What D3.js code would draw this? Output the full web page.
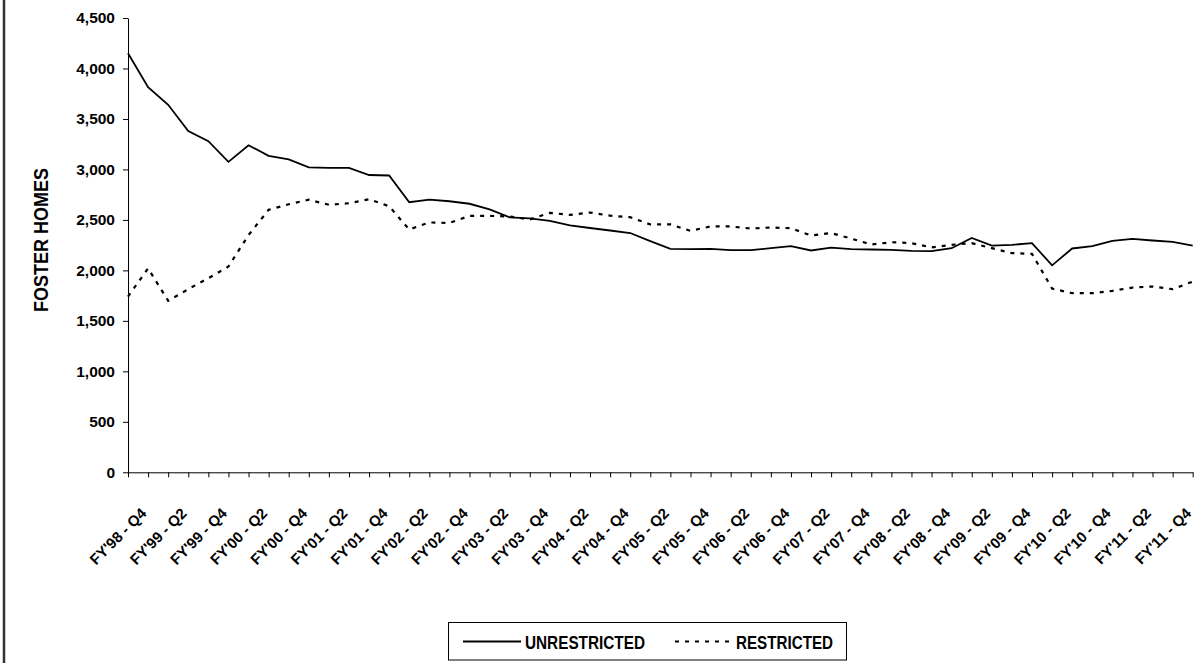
<!DOCTYPE html>
<html><head><meta charset="utf-8">
<script src="https://cdn.jsdelivr.net/npm/d3@7"></script>
<style>
body{margin:0;background:#fff}
text{font-family:"Liberation Sans",Arial,sans-serif;font-weight:bold;fill:#000}
</style>
</head><body><svg id="c" width="1203" height="663"></svg>
<script>
const quarters = [
 "FY'98 - Q4",
 "FY'99 - Q1","FY'99 - Q2","FY'99 - Q3","FY'99 - Q4",
 "FY'00 - Q1","FY'00 - Q2","FY'00 - Q3","FY'00 - Q4",
 "FY'01 - Q1","FY'01 - Q2","FY'01 - Q3","FY'01 - Q4",
 "FY'02 - Q1","FY'02 - Q2","FY'02 - Q3","FY'02 - Q4",
 "FY'03 - Q1","FY'03 - Q2","FY'03 - Q3","FY'03 - Q4",
 "FY'04 - Q1","FY'04 - Q2","FY'04 - Q3","FY'04 - Q4",
 "FY'05 - Q1","FY'05 - Q2","FY'05 - Q3","FY'05 - Q4",
 "FY'06 - Q1","FY'06 - Q2","FY'06 - Q3","FY'06 - Q4",
 "FY'07 - Q1","FY'07 - Q2","FY'07 - Q3","FY'07 - Q4",
 "FY'08 - Q1","FY'08 - Q2","FY'08 - Q3","FY'08 - Q4",
 "FY'09 - Q1","FY'09 - Q2","FY'09 - Q3","FY'09 - Q4",
 "FY'10 - Q1","FY'10 - Q2","FY'10 - Q3","FY'10 - Q4",
 "FY'11 - Q1","FY'11 - Q2","FY'11 - Q3","FY'11 - Q4",
 "FY'12 - Q1"
];
const unrestricted = [
 4150,
 3815,3640,3380,3280,
 3075,3240,3135,3100,
 3020,3015,3015,2945,
 2940,2675,2700,2685,
 2660,2605,2525,2515,
 2490,2445,2420,2395,
 2370,2290,2213,2210,
 2213,2200,2200,2220,
 2240,2197,2225,2210,
 2207,2203,2193,2190,
 2220,2322,2246,2253,
 2270,2050,2217,2240,
 2293,2312,2296,2283,
 2246
];
const restricted = [
 1740,
 2020,1698,1814,1923,
 2038,2350,2600,2655,
 2700,2650,2665,2705,
 2635,2405,2475,2470,
 2540,2540,2534,2505,
 2570,2550,2573,2542,
 2527,2455,2455,2392,
 2435,2435,2415,2425,
 2418,2345,2370,2315,
 2256,2279,2270,2227,
 2253,2270,2220,2171,
 2164,1820,1774,1774,
 1797,1830,1840,1814,
 1889
];
const yTicks = [0,500,1000,1500,2000,2500,3000,3500,4000,4500];
const seriesNames = ["UNRESTRICTED","RESTRICTED"];
const yTitle = "FOSTER HOMES";

const svg = d3.select("#c");

// left frame line
svg.append("line").attr("x1",4).attr("x2",4).attr("y1",0).attr("y2",663)
  .attr("stroke","#333").attr("stroke-width",2.5);

const x = d3.scalePoint().domain(quarters).range([128, 1192.7]);
const y = d3.scaleLinear().domain([0,4500]).range([472.3, 18]);

// y axis
const gy = svg.append("g").attr("transform","translate(128,0)")
  .call(d3.axisLeft(y).tickValues(yTicks).tickSize(5).tickSizeOuter(0).tickPadding(8).tickFormat(d3.format(",")));
gy.selectAll("text").style("font-size","15.5px");
gy.selectAll("line,path").attr("stroke","#000");

// x axis
const gx = svg.append("g").attr("transform","translate(0,472.3)")
  .call(d3.axisBottom(x).tickSize(5).tickSizeOuter(0).tickFormat((d,i)=> i%2===0 ? d : ""));
gx.selectAll("line,path").attr("stroke","#000");
gx.selectAll("text")
  .style("font-size","15px")
  .attr("text-anchor","end")
  .attr("x",0).attr("y",0).attr("dy",0)
  .attr("transform","translate(19,42) rotate(-45)");

// y title
svg.append("text")
  .attr("transform","translate(47.5,240) rotate(-90)")
  .attr("text-anchor","middle")
  .attr("textLength",144).attr("lengthAdjust","spacingAndGlyphs")
  .style("font-size","20px")
  .text(yTitle);

// lines
const line = d3.line().x((d,i)=>x(quarters[i])).y(d=>y(d));
svg.append("path").datum(unrestricted).attr("d",line)
  .attr("fill","none").attr("stroke","#000").attr("stroke-width",1.8);
svg.append("path").datum(restricted).attr("d",line)
  .attr("fill","none").attr("stroke","#000").attr("stroke-width",2.2)
  .attr("stroke-dasharray","4,6");

// legend
const lg = svg.append("g");
lg.append("rect").attr("x",448.5).attr("y",622.5).attr("width",398).attr("height",37.5)
  .attr("fill","#fff").attr("stroke","#000").attr("stroke-width",1);
lg.append("line").attr("x1",463).attr("x2",521).attr("y1",641.5).attr("y2",641.5)
  .attr("stroke","#000").attr("stroke-width",1.8);
lg.append("text").attr("x",525).attr("y",648.5).style("font-size","18px")
  .attr("textLength",120).attr("lengthAdjust","spacingAndGlyphs").text(seriesNames[0]);
lg.append("line").attr("x1",675).attr("x2",735).attr("y1",641.5).attr("y2",641.5)
  .attr("stroke","#000").attr("stroke-width",2.2).attr("stroke-dasharray","4,6");
lg.append("text").attr("x",736).attr("y",648.5).style("font-size","18px")
  .attr("textLength",97).attr("lengthAdjust","spacingAndGlyphs").text(seriesNames[1]);
</script>
</body></html>
